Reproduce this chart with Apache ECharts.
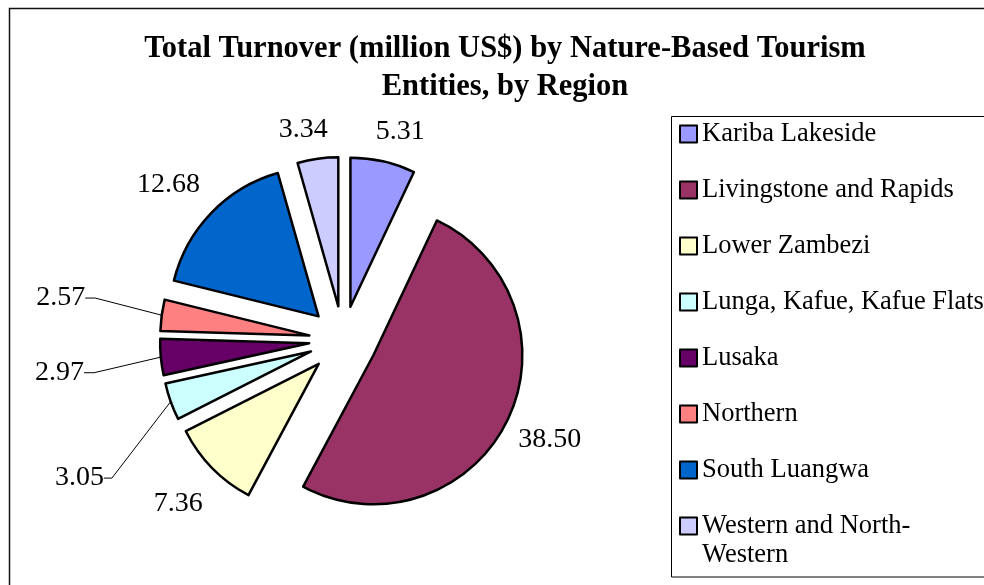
<!DOCTYPE html>
<html>
<head>
<meta charset="utf-8">
<script src="https://cdn.jsdelivr.net/npm/echarts@6/dist/echarts.min.js"></script>
<style>html,body{margin:0;padding:0;background:#fff}#c{width:984px;height:585px}</style>
</head>
<body>
<div id="c"></div>
<script>
// ---- data ----
const categories = ['Kariba Lakeside', 'Livingstone and Rapids', 'Lower Zambezi', 'Lunga, Kafue, Kafue Flats', 'Lusaka', 'Northern', 'South Luangwa', 'Western and North-Western'];
const values = [5.31, 38.50, 7.36, 3.05, 2.97, 2.57, 12.68, 3.34];
const colors = ['#9999FF', '#993366', '#FFFFCC', '#CCFFFF', '#660066', '#FF8080', '#0066CC', '#CCCCFF'];
const titleText = 'Total Turnover (million US$) by Nature-Based Tourism\nEntities, by Region';

// ---- label placement tweaks (style only) ----
const labelTweaks = [
  { len: 31, len2: 0, dist: -14, line: false, shift: 0 },
  { len: 40, len2: 0, dist: -24, line: false, shift: 0 },
  { len: 51, len2: 0, dist: -27, line: false, shift: 0 },
  { len: 55, len2: 8, dist: 7, line: true, shift: 58 },
  { len: 60, len2: 10, dist: 7, line: true, shift: 10 },
  { len: 60, len2: 10, dist: 7, line: true, shift: -9 },
  { len: 41, len2: 0, dist: -18, line: false, shift: 0 },
  { len: 29, len2: 0, dist: -14, line: false, shift: 0 }
];

const serif = '"Liberation Serif", "Times New Roman", serif';

const pieData = categories.map((name, i) => {
  const t = labelTweaks[i];
  const lbl = { distanceToLabelLine: t.dist };
  if (t.shift) lbl.lineHeight = 2 * Math.abs(t.shift);
  return {
    name: name,
    value: values[i],
    selected: true,
    itemStyle: { color: colors[i] },
    label: lbl,
    labelLine: { show: t.line, length: t.len, length2: t.len2 }
  };
});

const legendBase = {
  orient: 'vertical',
  left: 679,
  padding: 0,
  itemWidth: 17,
  itemHeight: 17,
  itemGap: 27,
  icon: 'rect',
  selectedMode: false,
  textStyle: { fontFamily: serif, fontSize: 26.5, lineHeight: 29, color: '#000' },
  itemStyle: { borderColor: '#000', borderWidth: 2 }
};

const chart = echarts.init(document.getElementById('c'), null, { renderer: 'canvas' });
chart.setOption({
  animation: false,
  backgroundColor: '#fff',
  title: {
    text: titleText,
    left: 500,
    textAlign: 'center',
    top: 25,
    textStyle: { fontFamily: serif, fontWeight: 'bold', fontSize: 30.5, lineHeight: 38, color: '#000' }
  },
  graphic: [{
    type: 'rect', z: -1,
    shape: { x: 9.5, y: 8.5, width: 1000, height: 600 },
    style: { fill: 'none', stroke: '#111', lineWidth: 1.5 }
  }, {
    type: 'rect', z: -1,
    shape: { x: 671.5, y: 116.5, width: 340, height: 460.5 },
    style: { fill: 'none', stroke: '#000', lineWidth: 1 }
  }],
  legend: [
    Object.assign({}, legendBase, {
      top: 119.5,
      data: categories.slice(0, 7)
    }),
    Object.assign({}, legendBase, {
      top: 482.5,
      formatter: n => n === 'Western and North-Western' ? '\nWestern and North-\nWestern' : n,
      data: categories.slice(7)
    })
  ],
  series: [{
    type: 'pie',
    center: [343, 340],
    radius: [0, 149],
    startAngle: 90,
    clockwise: true,
    selectedMode: 'multiple',
    selectedOffset: 34,
    avoidLabelOverlap: false,
    itemStyle: { borderColor: '#000', borderWidth: 2.5 },
    select: { itemStyle: { borderColor: '#000', borderWidth: 2.5 } },
    emphasis: { disabled: true },
    label: {
      show: true,
      position: 'outside',
      fontFamily: serif,
      fontSize: 28,
      color: '#000',
      formatter: p => {
        const t = labelTweaks[p.dataIndex];
        const s = p.value.toFixed(2);
        if (!t.shift) return s;
        return t.shift > 0 ? '\n' + s : s + '\n';
      }
    },
    labelLine: { lineStyle: { color: '#000', width: 1 } },
    labelLayout: function (p) {
      const t = labelTweaks[p.dataIndex];
      if (!t || !t.shift) return {};
      return { y: p.labelRect.y + p.labelRect.height / 2 + t.shift };
    },
    data: pieData
  }]
});
</script>
</body>
</html>
